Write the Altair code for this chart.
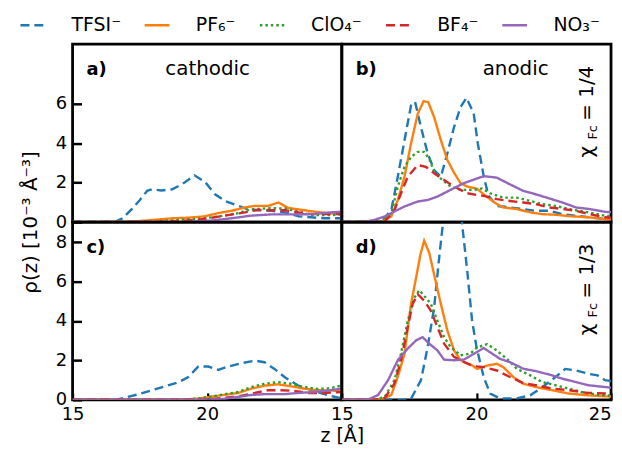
import altair as alt
import pandas as pd

FONT = "DejaVu Sans"

ions = ["TFSI⁻", "PF₆⁻", "ClO₄⁻", "BF₄⁻", "NO₃⁻"]
ion_colors = ["#1f77b4", "#ff7f0e", "#2ca02c", "#d62728", "#9467bd"]
ion_dashes = [[9, 5], [1, 0], [2.5, 3], [9, 5], [1, 0]]

# ---------------- panel a (cathodic, chi = 1/4) ----------------
a_tfsi_z = [15, 16.0, 16.6, 16.85, 17.2, 17.5, 17.77, 17.95, 18.3, 18.7, 19.06, 19.53, 19.92, 20.29, 20.66, 21.15, 21.5, 21.9, 22.4, 22.9, 23.4, 23.86, 24.35, 25]
a_tfsi_r = [0, 0, 0.02, 0.19, 0.65, 1.12, 1.58, 1.66, 1.60, 1.66, 1.91, 2.37, 2.03, 1.41, 1.07, 0.82, 0.65, 0.60, 0.57, 0.49, 0.29, 0.24, 0.19, 0.19]
a_pf6_z = [15, 17.2, 18.1, 18.7, 19.3, 19.9, 20.4, 20.9, 21.4, 21.77, 22.26, 22.65, 23.0, 23.6, 24.2, 25]
a_pf6_r = [0, 0.02, 0.12, 0.19, 0.22, 0.29, 0.45, 0.57, 0.74, 0.82, 0.82, 0.99, 0.72, 0.60, 0.49, 0.40]
a_clo4_z = [15, 18.0, 19.9, 20.5, 21.15, 21.64, 22.4, 22.9, 23.4, 23.9, 24.6, 25]
a_clo4_r = [0, 0.02, 0.19, 0.30, 0.45, 0.65, 0.70, 0.69, 0.52, 0.35, 0.35, 0.40]
a_bf4_z = [15, 18.5, 19.7, 20.5, 21.4, 21.9, 22.4, 22.9, 23.4, 23.9, 24.6, 25]
a_bf4_r = [0, 0.02, 0.12, 0.29, 0.49, 0.62, 0.60, 0.60, 0.49, 0.40, 0.40, 0.40]
a_no3_z = [15, 19.3, 20.2, 20.9, 21.6, 22.4, 23.1, 23.9, 24.6, 25]
a_no3_r = [0, 0.01, 0.08, 0.19, 0.32, 0.39, 0.39, 0.40, 0.49, 0.52]

# ---------------- panel b (anodic, chi = 1/4) ----------------
b_tfsi_z = [15, 16.5, 16.84, 17.08, 17.33, 17.57, 17.72, 17.94, 18.19, 18.43, 18.68, 18.92, 19.17, 19.41, 19.63, 19.9, 20.05, 20.27, 20.45, 20.76, 21.25, 21.74, 22.2, 22.7, 23.2, 23.7, 24.2, 24.8, 25]
b_tfsi_r = [0, 0.05, 0.62, 2.3, 4.15, 5.91, 6.1, 4.82, 3.48, 2.64, 2.3, 3.48, 4.82, 5.83, 6.3, 5.5, 4.0, 2.33, 1.33, 0.82, 0.74, 0.66, 0.57, 0.57, 0.40, 0.32, 0.24, 0.15, 0.15]
b_pf6_z = [15, 16.5, 16.84, 17.08, 17.33, 17.57, 17.82, 18.04, 18.21, 18.43, 18.68, 18.92, 19.17, 19.41, 19.66, 20.02, 20.27, 20.51, 20.76, 21.0, 21.5, 22.0, 22.45, 22.94, 23.43, 24.17, 24.78, 25]
b_pf6_r = [0, 0.03, 0.29, 1.12, 2.3, 3.98, 5.49, 6.13, 6.08, 5.32, 4.15, 3.15, 2.5, 1.97, 1.8, 1.69, 1.41, 1.16, 0.91, 0.74, 0.66, 0.49, 0.40, 0.37, 0.30, 0.24, 0.15, 0.12]
b_clo4_z = [15, 16.5, 16.84, 17.08, 17.33, 17.57, 17.82, 18.06, 18.25, 18.43, 18.68, 19.04, 19.41, 19.9, 20.2, 20.51, 21.0, 21.5, 22.0, 22.45, 22.94, 23.43, 24.17, 24.78, 25]
b_clo4_r = [0, 0.04, 0.45, 1.8, 2.8, 3.3, 3.56, 3.56, 3.2, 2.55, 2.2, 1.8, 1.63, 1.63, 1.7, 1.46, 1.24, 1.24, 1.07, 0.91, 0.82, 0.66, 0.49, 0.32, 0.30]
b_bf4_z = [15, 16.6, 16.96, 17.2, 17.45, 17.82, 18.12, 18.43, 18.8, 19.17, 19.66, 20.0, 20.27, 20.76, 21.25, 21.74, 22.2, 22.7, 23.2, 23.7, 24.2, 24.78, 25]
b_bf4_r = [0, 0.03, 0.62, 1.46, 2.3, 2.89, 2.8, 2.47, 2.13, 1.8, 1.46, 1.38, 1.33, 1.16, 1.07, 0.99, 0.91, 0.74, 0.66, 0.57, 0.40, 0.24, 0.22]
b_no3_z = [15, 15.8, 16.2, 16.6, 16.96, 17.33, 17.82, 18.19, 18.55, 19.04, 19.53, 19.9, 20.27, 20.76, 21.25, 21.74, 22.2, 22.7, 23.2, 23.7, 24.2, 24.78, 25]
b_no3_r = [0, 0.01, 0.10, 0.29, 0.54, 0.79, 1.04, 1.12, 1.29, 1.63, 1.97, 2.15, 2.33, 2.25, 1.91, 1.58, 1.41, 1.20, 0.99, 0.74, 0.66, 0.52, 0.50]

# ---------------- panel c (cathodic, chi = 1/3) ----------------
c_tfsi_z = [15, 16.6, 16.97, 17.46, 17.95, 18.44, 18.94, 19.3, 19.67, 20.04, 20.41, 20.78, 21.27, 21.77, 22.13, 22.5, 22.87, 23.36, 23.86, 24.35, 24.84, 25]
c_tfsi_r = [0, 0.01, 0.12, 0.29, 0.49, 0.69, 0.90, 1.16, 1.69, 1.69, 1.52, 1.69, 1.86, 1.99, 1.91, 1.57, 1.16, 0.74, 0.49, 0.29, 0.12, 0.10]
c_pf6_z = [15, 19.0, 19.7, 20.5, 21.15, 21.64, 22.13, 22.63, 23.1, 23.6, 24.1, 24.6, 25]
c_pf6_r = [0, 0.01, 0.07, 0.23, 0.35, 0.57, 0.72, 0.79, 0.69, 0.57, 0.49, 0.47, 0.45]
c_clo4_z = [15, 19.0, 19.7, 20.5, 21.15, 21.64, 22.13, 22.63, 23.1, 23.6, 24.1, 24.6, 25]
c_clo4_r = [0, 0.01, 0.07, 0.25, 0.40, 0.65, 0.82, 0.90, 0.82, 0.65, 0.55, 0.59, 0.74]
c_bf4_z = [15, 20.0, 21.15, 21.77, 22.26, 22.75, 23.25, 23.74, 24.35, 25]
c_bf4_r = [0, 0.02, 0.18, 0.35, 0.49, 0.49, 0.45, 0.35, 0.35, 0.40]
c_no3_z = [15, 20.0, 20.5, 21.15, 21.64, 22.13, 22.87, 23.36, 23.86, 24.35, 25]
c_no3_r = [0, 0.01, 0.03, 0.15, 0.25, 0.29, 0.29, 0.35, 0.39, 0.45, 0.57]

# ---------------- panel d (anodic, chi = 1/3) ----------------
d_tfsi_z = [15, 17.3, 17.57, 17.94, 18.19, 18.43, 18.6, 18.8, 18.95, 19.1, 19.25, 19.4, 19.55, 19.66, 19.84, 20.0, 20.27, 20.51, 20.88, 21.5, 22.0, 22.45, 22.94, 23.3, 23.7, 24.17, 24.5, 24.78, 25]
d_tfsi_r = [0, 0, 0.05, 1.0, 2.68, 4.69, 7.0, 9.5, 11.0, 11.6, 11.2, 9.8, 7.9, 6.53, 4.02, 2.7, 1.16, 0.32, 0.07, 0.07, 0.23, 0.65, 1.16, 1.57, 1.49, 1.32, 1.24, 1.0, 0.95]
d_pf6_z = [15, 16.47, 16.84, 17.08, 17.33, 17.57, 17.76, 17.92, 18.06, 18.25, 18.43, 18.68, 18.92, 19.17, 19.41, 19.66, 19.85, 20.03, 20.4, 20.76, 21.0, 21.37, 21.74, 22.2, 22.82, 23.43, 24.17, 24.78, 25]
d_pf6_r = [0, 0.02, 0.25, 1.17, 2.35, 4.86, 6.2, 7.37, 8.07, 7.45, 6.35, 4.86, 3.52, 2.51, 2.01, 1.84, 1.74, 1.57, 1.74, 1.83, 1.66, 1.16, 0.82, 0.65, 0.49, 0.32, 0.23, 0.18, 0.17]
d_clo4_z = [15, 16.3, 16.6, 16.96, 17.2, 17.45, 17.7, 17.88, 18.06, 18.31, 18.55, 18.8, 19.04, 19.41, 19.78, 20.03, 20.4, 20.76, 21.13, 21.5, 22.0, 22.45, 22.94, 23.43, 23.9, 24.4, 24.78, 25]
d_clo4_r = [0, 0.02, 0.17, 1.0, 2.35, 4.02, 5.19, 5.56, 5.28, 4.86, 4.02, 3.18, 2.68, 2.26, 2.35, 2.66, 2.83, 2.5, 2.08, 1.58, 1.24, 0.90, 0.74, 0.57, 0.40, 0.28, 0.23, 0.22]
d_bf4_z = [15, 16.4, 16.6, 16.96, 17.2, 17.45, 17.63, 17.82, 18.06, 18.31, 18.55, 18.8, 19.17, 19.53, 19.78, 20.02, 20.27, 20.76, 21.25, 21.74, 22.2, 22.82, 23.43, 24.05, 24.78, 25]
d_bf4_r = [0, 0.02, 0.10, 0.84, 2.01, 3.69, 4.86, 5.36, 5.03, 4.52, 3.69, 2.85, 2.18, 1.93, 1.78, 1.70, 1.66, 1.49, 1.16, 0.85, 0.74, 0.57, 0.49, 0.37, 0.32, 0.30]
d_no3_z = [15, 15.98, 16.35, 16.72, 17.08, 17.45, 17.76, 18.0, 18.25, 18.55, 18.8, 19.17, 19.53, 19.9, 20.27, 20.51, 20.88, 21.25, 21.74, 22.2, 22.7, 23.2, 23.7, 24.17, 24.78, 25]
d_no3_r = [0, 0.02, 0.25, 1.0, 2.01, 2.6, 3.02, 3.18, 2.85, 2.51, 2.04, 2.01, 2.04, 2.33, 2.63, 2.41, 2.08, 1.91, 1.58, 1.46, 1.29, 1.07, 0.90, 0.74, 0.65, 0.62]

series = {
    "a": [(a_tfsi_z, a_tfsi_r), (a_pf6_z, a_pf6_r), (a_clo4_z, a_clo4_r), (a_bf4_z, a_bf4_r), (a_no3_z, a_no3_r)],
    "b": [(b_tfsi_z, b_tfsi_r), (b_pf6_z, b_pf6_r), (b_clo4_z, b_clo4_r), (b_bf4_z, b_bf4_r), (b_no3_z, b_no3_r)],
    "c": [(c_tfsi_z, c_tfsi_r), (c_pf6_z, c_pf6_r), (c_clo4_z, c_clo4_r), (c_bf4_z, c_bf4_r), (c_no3_z, c_no3_r)],
    "d": [(d_tfsi_z, d_tfsi_r), (d_pf6_z, d_pf6_r), (d_clo4_z, d_clo4_r), (d_bf4_z, d_bf4_r), (d_no3_z, d_no3_r)],
}

rows = []
for p, lst in series.items():
    for k, (zs, rs) in enumerate(lst):
        for i, (zz, rr) in enumerate(zip(zs, rs)):
            rows.append({"panel": p, "ion": ions[k], "k": k, "i": i, "z": zz, "rho": rr})
df = pd.DataFrame(rows)

W, H = 271, 179
xscale = alt.Scale(domain=[15, 25], nice=False, zero=False)
yscale = alt.Scale(domain=[0, 9.02], nice=False)

legend = alt.Legend(
    title=None, orient="none", legendX=-54, legendY=-33, direction="horizontal",
    symbolType="stroke", symbolSize=620, symbolStrokeWidth=2.5,
    labelFontSize=19, labelFont=FONT, labelColor="black",
    columnPadding=18, labelOffset=25, padding=0,
)


def make_panel(pid, show_x, show_y, yvals, label, side, chi):
    d = df[df.panel == pid]
    if show_x:
        xaxis = alt.Axis(
            values=[15, 20] if pid == "c" else [15, 20, 25], format="d",
            domain=False, ticks=True, tickSize=7, tickWidth=2.2, tickColor="black", offset=-7,
            labelFontSize=18, labelPadding=6, labelFlush=False, labelOverlap=False,
            labelAlign={"condition": {"test": "datum.value == 25", "value": "right"}, "value": "center"},
            title="z [Å]" if pid == "c" else None, titleFontSize=19, titleFontWeight="normal",
            titleX=W, titleAlign="center", titlePadding=3,
        )
    else:
        xaxis = None
    if show_y:
        yaxis = alt.Axis(
            values=yvals, format="d", domain=False, ticks=True, tickSize=9, tickWidth=2.5,
            tickColor="black", offset=-9, labelFontSize=18, labelPadding=6,
            labelFlush=False, labelOverlap=False,
            title="ρ(z) [10⁻³ Å⁻³]" if pid == "c" else None, titleFontSize=20,
            titleFontWeight="normal", titleY=0, titlePadding=15,
        )
    else:
        yaxis = None
    lines = alt.Chart(d).mark_line(strokeWidth=2.4, clip=True).encode(
        x=alt.X("z:Q", scale=xscale, axis=xaxis),
        y=alt.Y("rho:Q", scale=yscale, axis=yaxis),
        color=alt.Color("ion:N", scale=alt.Scale(domain=ions, range=ion_colors), legend=legend),
        strokeDash=alt.StrokeDash("ion:N", scale=alt.Scale(domain=ions, range=ion_dashes), legend=legend),
        order=alt.Order("i:Q"),
    )
    layers = [lines]
    lab = alt.Chart(pd.DataFrame({"t": [label]})).mark_text(
        font=FONT, fontSize=18, fontWeight="bold", align="left", baseline="alphabetic", color="black"
    ).encode(x=alt.value(14), y=alt.value(31), text="t:N")
    layers.append(lab)
    if side is not None:
        sd = alt.Chart(pd.DataFrame({"t": [side[0]]})).mark_text(
            font=FONT, fontSize=20, align="center", baseline="alphabetic", color="black"
        ).encode(x=alt.value(side[1]), y=alt.value(31), text="t:N")
        layers.append(sd)
    if chi is not None:
        chi_main = alt.Chart(pd.DataFrame({"t": ["χ"]})).mark_text(
            font=FONT, fontSize=20, angle=270, align="left", baseline="alphabetic", color="black"
        ).encode(x=alt.value(253), y=alt.value(114), text="t:N")
        chi_sub = alt.Chart(pd.DataFrame({"t": ["Fc"]})).mark_text(
            font=FONT, fontSize=13, angle=270, align="left", baseline="alphabetic", color="black"
        ).encode(x=alt.value(257), y=alt.value(96), text="t:N")
        chi_eq = alt.Chart(pd.DataFrame({"t": ["= " + chi]})).mark_text(
            font=FONT, fontSize=20, angle=270, align="left", baseline="alphabetic", color="black"
        ).encode(x=alt.value(253), y=alt.value(77), text="t:N")
        layers += [chi_main, chi_sub, chi_eq]
    return alt.layer(*layers).properties(width=W, height=H)


pa = make_panel("a", False, True, [0, 2, 4, 6], "a)", ("cathodic", 136), None)
pb = make_panel("b", False, False, None, "b)", ("anodic", 175), "1/4")
pc = make_panel("c", True, True, [0, 2, 4, 6, 8], "c)", None, None)
pd_ = make_panel("d", True, False, None, "d)", None, "1/3")

chart = alt.concat(pa, pb, pc, pd_, columns=2, spacing=0, bounds="flush").properties(
    padding={"left": 11, "top": 2, "right": 0, "bottom": 0}
).configure_view(
    stroke="black", strokeWidth=2.8
).configure_axis(
    grid=False, labelFont=FONT, titleFont=FONT, labelColor="black", titleColor="black"
)

chart.save("out.html", embed_options={"renderer": "svg", "actions": False})
